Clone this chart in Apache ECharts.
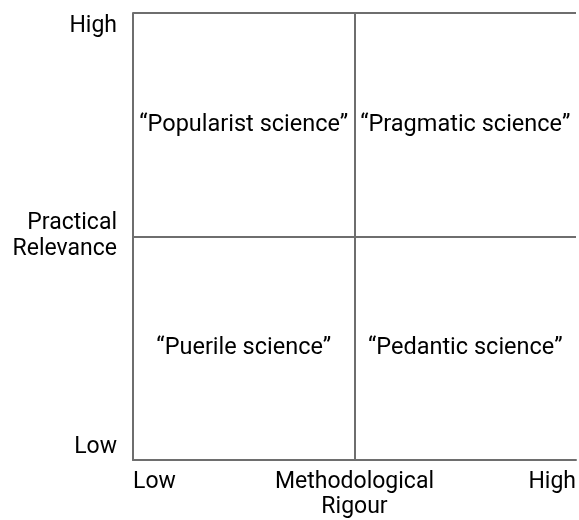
<!DOCTYPE html>
<html>
<head>
<meta charset="utf-8">
<script src="https://cdn.jsdelivr.net/npm/echarts@6/dist/echarts.min.js"></script>
<style>
  html, body { margin: 0; padding: 0; background: #fff; }
  #chart { width: 579px; height: 520px; }
</style>
</head>
<body>
<div id="chart"></div>
<script>
// axis tick labels (min, middle, max)
var xTickLabels = ['Low', 'Methodological\nRigour', 'High'];
var yTickLabels = ['Low', 'Practical\nRelevance', 'High'];

// quadrant names and their centre positions (rigour, relevance)
var quadrantNames = ['\u201cPopularist science\u201d', '\u201cPragmatic science\u201d', '\u201cPuerile science\u201d', '\u201cPedantic science\u201d'];
var quadrantX = [0.5, 1.5, 0.5, 1.5];
var quadrantY = [1.5, 1.5, 0.5, 0.5];

var fontName = 'Roboto, "Liberation Sans", sans-serif';
var lineColor = '#6e6e6e';

var dom = document.getElementById('chart');
var myChart = echarts.init(dom);

var points = [];
for (var i = 0; i < quadrantNames.length; i++) {
    points.push({ name: quadrantNames[i], value: [quadrantX[i], quadrantY[i]] });
}

var option = {
    animation: false,
    grid: { left: 133, top: 13, right: -1, bottom: 59, containLabel: false },
    xAxis: {
        type: 'value', min: 0, max: 2, interval: 1,
        axisLine: { show: true, lineStyle: { color: lineColor, width: 2 } },
        axisTick: { show: false },
        splitLine: { show: true, showMinLine: false, showMaxLine: false, lineStyle: { color: lineColor, width: 2 } },
        axisLabel: {
            margin: 10,
            color: '#000',
            fontFamily: fontName,
            fontSize: 23,
            lineHeight: 25,
            verticalAlign: 'top',
            alignMinLabel: 'left',
            alignMaxLabel: 'right',
            formatter: function(v) { return xTickLabels[Math.round(v)]; }
        }
    },
    yAxis: {
        type: 'value', min: 0, max: 2, interval: 1,
        axisLine: { show: true, lineStyle: { color: lineColor, width: 2 } },
        axisTick: { show: false },
        splitLine: { show: true, showMinLine: false, lineStyle: { color: lineColor, width: 2 } },
        axisLabel: {
            margin: 16,
            color: '#000',
            fontFamily: fontName,
            fontSize: 23,
            lineHeight: 26,
            align: 'right',
            verticalAlignMinLabel: 'bottom',
            verticalAlignMaxLabel: 'top',
            formatter: function(v) { return yTickLabels[Math.round(v)]; }
        }
    },
    series: [{
        type: 'scatter',
        symbolSize: 0,
        silent: true,
        itemStyle: { opacity: 1 },
        data: points,
        label: {
            show: true,
            position: 'inside',
            color: '#000',
            opacity: 1,
            textBorderWidth: 0,
            fontFamily: fontName,
            fontSize: 23.5,
            formatter: '{b}'
        }
    }]
};

myChart.setOption(option, true);
</script>
</body>
</html>
